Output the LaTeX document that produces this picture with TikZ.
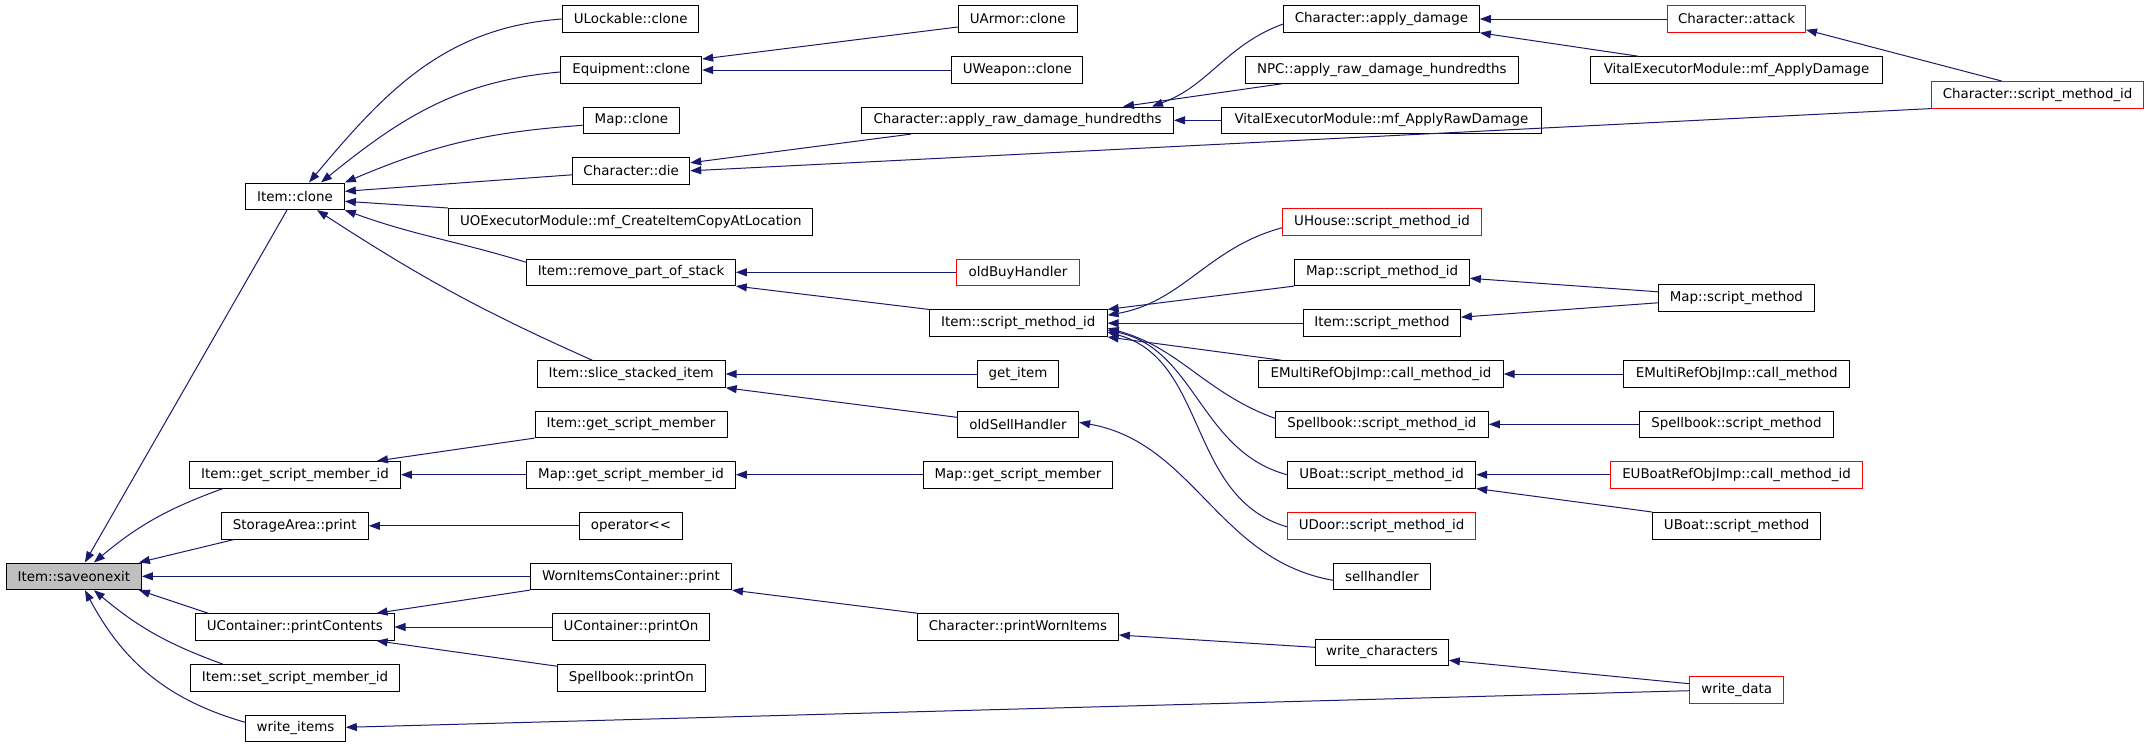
\documentclass[tikz,border=0pt]{standalone}
\usepackage{fontspec}
\setmainfont{DejaVu Sans}
\usetikzlibrary{arrows.meta}

\definecolor{edgeblue}{RGB}{25,25,112}
\definecolor{rootgray}{RGB}{191,191,191}

\tikzset{
  fn/.style={draw=black, rectangle, line width=1pt, minimum height=26.6pt,
    inner sep=0pt, font=\fontsize{13.4}{15}\selectfont},
  fnred/.style={fn, draw=red},
  call/.style={draw=edgeblue, line width=1pt,
    -{Triangle[length=11pt,width=8pt,fill=edgeblue]}},
}

\begin{document}
\begin{tikzpicture}[x=1pt, y=-1pt]
\useasboundingbox (0,0) rectangle (2149,747);

%root and first column
\node[fn, fill=rootgray, minimum width=135pt] (save) at (73.9,576.3) {Item::saveonexit};
\node[fn, minimum width=98.7pt] (clone) at (295,196.3) {Item::clone};
\node[fn, minimum width=210.8pt] (gsmid) at (295,474.7) {Item::get\_script\_member\_id};
\node[fn, minimum width=147pt] (sap) at (294.8,525.8) {StorageArea::print};
\node[fn, minimum width=198.4pt] (ucpc) at (294.8,627) {UContainer::printContents};
\node[fn, minimum width=209pt] (ssmid) at (295,678) {Item::set\_script\_member\_id};
\node[fn, minimum width=99.6pt] (writeitems) at (295.5,728.3) {write\_items};

%second column
\node[fn, minimum width=136.4pt] (ulock) at (630.7,19) {ULockable::clone};
\node[fn, minimum width=141pt] (equip) at (631.2,70) {Equipment::clone};
\node[fn, minimum width=96.4pt] (mapclone) at (631.4,120.3) {Map::clone};
\node[fn, minimum width=117pt] (die) at (631.2,170.8) {Character::die};
\node[fn, minimum width=364.3pt] (uoexec) at (630.8,221.8) {UOExecutorModule::mf\_CreateItemCopyAtLocation};
\node[fn, minimum width=208.7pt] (rmpart) at (631,272.3) {Item::remove\_part\_of\_stack};
\node[fn, minimum width=188pt] (slice) at (631.2,374) {Item::slice\_stacked\_item};
\node[fn, minimum width=192pt] (gsm) at (631,424.3) {Item::get\_script\_member};
\node[fn, minimum width=208.7pt] (mapgsmid) at (631,474.7) {Map::get\_script\_member\_id};
\node[fn, minimum width=103pt] (oplt) at (631,525.8) {operator<{}<};
\node[fn, minimum width=201pt] (worn) at (631,576.3) {WornItemsContainer::print};
\node[fn, minimum width=157pt] (ucpo) at (631,627) {UContainer::printOn};
\node[fn, minimum width=148pt] (sbpo) at (631.4,678) {Spellbook::printOn};

%third column
\node[fn, minimum width=118.8pt] (uarmor) at (1017.7,19) {UArmor::clone};
\node[fn, minimum width=131.3pt] (uweapon) at (1017.3,70) {UWeapon::clone};
\node[fn, minimum width=312pt] (rawdmg) at (1017.5,120.3) {Character::apply\_raw\_damage\_hundredths};
\node[fnred, minimum width=123pt] (oldbuy) at (1018,272.3) {oldBuyHandler};
\node[fn, minimum width=177.8pt] (ismid) at (1018.2,323.2) {Item::script\_method\_id};
\node[fn, minimum width=81.4pt] (getitem) at (1018,374) {get\_item};
\node[fn, minimum width=121.2pt] (oldsell) at (1018,424.3) {oldSellHandler};
\node[fn, minimum width=189pt] (mapgsm) at (1018,474.7) {Map::get\_script\_member};
\node[fn, minimum width=200.7pt] (cpwi) at (1018,627) {Character::printWornItems};

%fourth column
\node[fn, minimum width=195.7pt] (applydmg) at (1381.5,19) {Character::apply\_damage};
\node[fn, minimum width=273pt] (npc) at (1381.8,70) {NPC::apply\_raw\_damage\_hundredths};
\node[fn, minimum width=319.8pt] (vitalraw) at (1381.4,120.3) {VitalExecutorModule::mf\_ApplyRawDamage};
\node[fnred, minimum width=199pt] (uhouse) at (1382,221.8) {UHouse::script\_method\_id};
\node[fn, minimum width=174.7pt] (mapsmid) at (1382,272.3) {Map::script\_method\_id};
\node[fn, minimum width=156.8pt] (ism) at (1382,323.2) {Item::script\_method};
\node[fn, minimum width=244.4pt] (emcmid) at (1381,374) {EMultiRefObjImp::call\_method\_id};
\node[fn, minimum width=213pt] (sbsmid) at (1381.9,424.3) {Spellbook::script\_method\_id};
\node[fn, minimum width=188.2pt] (ubsmid) at (1381.6,474.7) {UBoat::script\_method\_id};
\node[fnred, minimum width=188.2pt] (udsmid) at (1381.6,525.8) {UDoor::script\_method\_id};
\node[fn, minimum width=97pt] (sellh) at (1382,576.3) {sellhandler};
\node[fn, minimum width=132.8pt] (writechars) at (1382,652.3) {write\_characters};

%fifth and sixth column
\node[fnred, minimum width=138pt] (attack) at (1736.5,19) {Character::attack};
\node[fn, minimum width=291.7pt] (vitaldmg) at (1736.5,70) {VitalExecutorModule::mf\_ApplyDamage};
\node[fn, minimum width=156pt] (mapsm) at (1736.4,297.8) {Map::script\_method};
\node[fn, minimum width=226pt] (emcm) at (1736.7,374) {EMultiRefObjImp::call\_method};
\node[fn, minimum width=194pt] (sbsm) at (1736.4,424.3) {Spellbook::script\_method};
\node[fnred, minimum width=252pt] (euboat) at (1736.5,474.7) {EUBoatRefObjImp::call\_method\_id};
\node[fn, minimum width=168.3pt] (ubsm) at (1736.7,525.8) {UBoat::script\_method};
\node[fnred, minimum width=94pt] (writedata) at (1736.7,689.7) {write\_data};
\node[fnred, minimum width=212pt] (csmid) at (2037.6,94.8) {Character::script\_method\_id};

%callers of Item::saveonexit
\draw[call] ([xshift=-8pt]clone.south) -- ([xshift=11pt]save.north);
\draw[call] ([xshift=-72pt]gsmid.south) to[out=200,in=40] ([xshift=20pt]save.north);
\draw[call] ([xshift=13pt]sap.south west) -- ([xshift=-3pt]save.north east);
\draw[call] (worn.west) -- (save.east);
\draw[call] ([xshift=13pt]ucpc.north west) -- ([xshift=-3pt]save.south east);
\draw[call] ([xshift=-72pt]ssmid.north) to[out=160,in=-40] ([xshift=20pt]save.south);
\draw[call] ([yshift=6pt]writeitems.west) to[out=164,in=298] ([xshift=11pt]save.south);

%callers of Item::clone
\draw[call] (ulock.west) to[out=184,in=50] ([xshift=14pt]clone.north);
\draw[call] ([yshift=-2pt]equip.west) to[out=185,in=39] ([xshift=26pt]clone.north);
\draw[call] ([yshift=-5pt]mapclone.west) to[out=184,in=23] (clone.north east);
\draw[call] ([yshift=-4pt]die.west) -- ([yshift=5pt]clone.east);
\draw[call] (uoexec.north west) -- ([yshift=-5pt]clone.east);
\draw[call] ([yshift=10pt]rmpart.west) to[out=163,in=-20] (clone.south east);
\draw[call] ([xshift=-39pt]slice.north) to[out=156,in=-33] ([xshift=22pt]clone.south);

\draw[call] ([yshift=-8pt]uarmor.west) -- ([yshift=11pt]equip.east);
\draw[call] (uweapon.west) -- (equip.east);
\draw[call] ([xshift=50pt]rawdmg.south west) -- ([yshift=8pt]die.east);
\draw[call] (csmid.south west) -- (die.east);
\draw[call] ([yshift=-5pt]applydmg.west) to[out=200,in=20] ([xshift=-22pt]rawdmg.north east);
\draw[call] ([xshift=37pt]npc.south west) -- ([xshift=-51pt]rawdmg.north east);
\draw[call] (vitalraw.west) -- (rawdmg.east);
\draw[call] (attack.west) -- (applydmg.east);
\draw[call] ([xshift=48pt]vitaldmg.north west) -- (applydmg.south east);
\draw[call] ([xshift=-36pt]csmid.north) -- ([yshift=3pt]attack.south east);

\draw[call] (oldbuy.west) -- (rmpart.east);
\draw[call] (ismid.north west) -- (rmpart.south east);

%callers of Item::script_method_id
\draw[call] (mapsmid.south west) -- (ismid.north east);
\draw[call] ([yshift=-6pt]uhouse.west) to[out=195,in=10] ([yshift=8pt]ismid.east);
\draw[call] (ism.west) -- (ismid.east);
\draw[call] ([yshift=6pt]sbsmid.west) to[out=160,in=-15] ([yshift=-5pt]ismid.east);
\draw[call] (ubsmid.west) to[out=165,in=-12] ([yshift=-7pt]ismid.east);
\draw[call] ([yshift=-1pt]udsmid.west) to[out=164,in=-15] ([yshift=-9pt]ismid.east);
\draw[call] ([xshift=23pt]emcmid.north west) -- (ismid.south east);

\draw[call] ([yshift=6pt]mapsm.west) -- ([yshift=-6pt]mapsmid.east);
\draw[call] ([yshift=-5pt]mapsm.west) -- ([yshift=6pt]ism.east);
\draw[call] (emcm.west) -- (emcmid.east);
\draw[call] (sbsm.west) -- (sbsmid.east);
\draw[call] (euboat.west) -- (ubsmid.east);
\draw[call] (ubsm.north west) -- (ubsmid.south east);

\draw[call] (getitem.west) -- (slice.east);
\draw[call] ([yshift=7pt]oldsell.west) -- (slice.south east);
\draw[call] ([yshift=-4pt]sellh.west) to[out=170,in=-10] ([yshift=2pt]oldsell.east);

\draw[call] (gsm.south west) -- ([xshift=-24pt]gsmid.north east);
\draw[call] (mapgsmid.west) -- (gsmid.east);
\draw[call] (mapgsm.west) -- (mapgsmid.east);
\draw[call] (oplt.west) -- (sap.east);

\draw[call] (worn.south west) -- ([xshift=-18pt]ucpc.north east);
\draw[call] (ucpo.west) -- (ucpc.east);
\draw[call] ([yshift=-2pt]sbpo.north west) -- ([xshift=-18pt]ucpc.south east);
\draw[call] (cpwi.north west) -- (worn.south east);
\draw[call] ([yshift=5pt]writechars.west) -- ([yshift=-8pt]cpwi.east);
\draw[call] ([yshift=6pt]writedata.west) -- ([yshift=-8pt]writechars.east);
\draw[call] ([yshift=-1pt]writedata.west) -- ([yshift=1pt]writeitems.east);

\end{tikzpicture}
\end{document}
